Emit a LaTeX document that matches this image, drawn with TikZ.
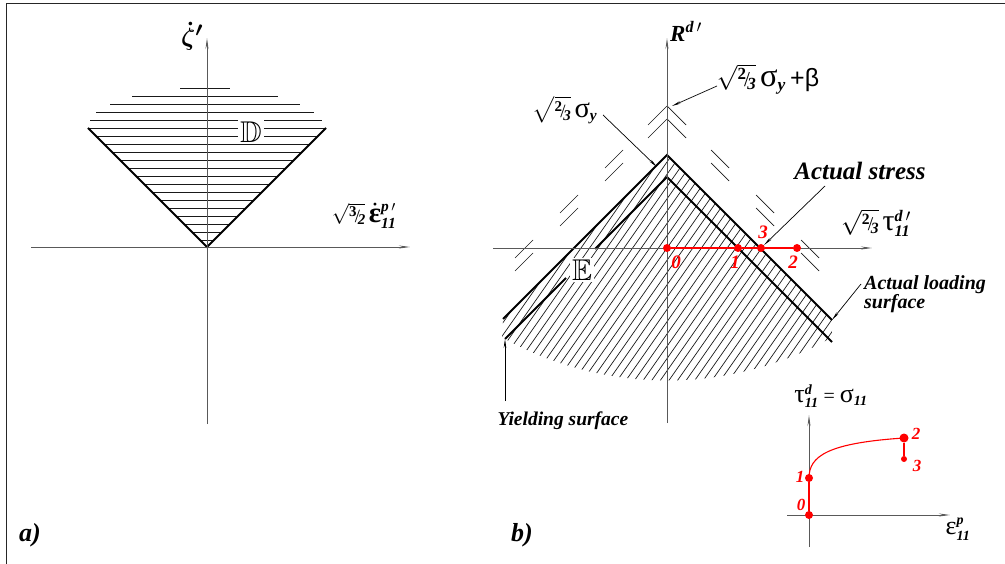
\documentclass[tikz,border=0pt]{standalone}
\usepackage{amsmath,amssymb}
\usepackage{fontspec}
\setmainfont{Liberation Serif}
\newfontfamily\sansf{Liberation Sans}
\usetikzlibrary{arrows.meta}
\newcommand{\rf}[2]{$\sqrt{\mbox{\raisebox{0.28em}{\scalebox{0.68}{\bfseries #1}}\kern-0.08em\scalebox{0.85}{/}\kern-0.1em\raisebox{-0.12em}{\scalebox{0.68}{\bfseries\itshape #2}}}}$}
\newcommand{\bi}[1]{\textbf{\textit{#1}}}
\newcommand{\fs}[1]{\fontsize{#1}{#1}\selectfont}
\newcommand{\gk}[1]{\scalebox{1.3}{#1}}
\newsavebox\zetabox
\newsavebox\epsbox
\begin{document}
\sbox\zetabox{\fs{31}\boldmath$\dot{\zeta}^{\prime}$}
\sbox\epsbox{\fs{22}\rf{3}{2}\,{\boldmath$\dot{\mbox{\gk{\bfseries ε}}}$}$^{\bi{p}\,\prime}_{\bi{11}}$}
\begin{tikzpicture}[x=1pt,y=-1pt,
  frame/.style={line width=1pt,draw=black!85},
  axline/.style={draw=black!65,line width=0.9pt},
  arr/.style={-{Stealth[length=11pt,width=3pt]}},
  hl/.style={line width=0.7pt,draw=black!90},
  thk/.style={line width=1.8pt},
  lead/.style={line width=0.7pt,-{Stealth[length=9pt,width=2.6pt]}},
  rdot/.style={circle,fill=red,inner sep=0pt,minimum size=8pt},
  rlab/.style={text=red,font=\fs{17}\bfseries\itshape,inner sep=0pt},
  blab/.style={font=\bfseries\itshape,inner sep=0pt},
  lbl/.style={inner sep=0pt}]
\useasboundingbox (0,0) rectangle (1005,564);
\draw[frame] (6,564) -- (6,4) -- (1005,4);

% ---------------- panel a ----------------
\coordinate (aO) at (207,247);
\coordinate (aL) at (88,128);
\coordinate (aR) at (326,128);
\foreach \k in {0,...,14}{
  \pgfmathsetmacro\yy{128+8*\k}
  \pgfmathsetmacro\hw{247-\yy}
  \draw[hl] ({207-\hw},\yy) -- ({207+\hw},\yy);
}
\foreach \y/\l/\r in {120/90/322,112/96/314,104/110/300,96/132/278,88/180/230}
  \draw[hl] (\l,\y) -- (\r,\y);
\node[fill=white,inner sep=2pt,font=\fs{30}] (D) at (251,132) {$\mathbb{D}$};
\draw[thk] (aL) -- (aO) -- (aR);
\draw[axline,arr] (31,247) -- (410,247);
\draw[axline,arr] (207,424) -- (207,38);
\node[lbl] (zt) at (192,36) {\usebox\zetabox};
\node[lbl] (xa) at (364,216) {\usebox\epsbox};
\node[blab,font=\fs{26}\bfseries\itshape] (la) at (30,535) {a)};

% ---------------- panel b ----------------
\coordinate (bO) at (667,248);
\coordinate (oA) at (667,155);
\coordinate (oL) at (503,319);
\coordinate (oR) at (832,320);
\coordinate (iA) at (667,177);
\coordinate (iL) at (505,339);
\coordinate (iR) at (832,342);
\begin{scope}
  \clip (oA) -- (oR) -- (832,337.4) arc[start angle=60.7,end angle=119.3,radius=337] -- (oL) -- cycle;
  \foreach \i in {-34,...,36}
    \draw[hl] ({667+8.6*\i-175},498) -- ++(350,-500);
\end{scope}
% dashed double cone
\foreach \s in {-1,1}
  \foreach \a/\b in {0/19,44/62,89/107,134/152}{
    \draw[hl] ({667+\s*\a},{106+\a}) -- ({667+\s*\b},{106+\b});
    \draw[hl] ({667+\s*\a},{119+\a}) -- ({667+\s*\b},{119+\b});
  }
\draw[thk] (oL) -- (oA) -- (oR);
\draw[thk] (iA) -- (595,249);
\draw[thk] (566,278) -- (iL);
\draw[thk] (iA) -- (iR);
\node[fill=white,inner sep=2pt,font=\fs{30}] (E) at (582,270) {$\mathbb{E}$};
\draw[axline,arr] (493,248) -- (872,248);
\draw[axline,arr] (667,423) -- (667,38);
% red path
\node[rdot] (p0) at (667,248) {};
\node[rdot] (p1) at (738,248) {};
\node[rdot] (p3) at (761,248) {};
\node[rdot] (p2) at (797,248) {};
\draw[red,line width=1.5pt] (p0) -- (p1) -- (p3) -- (p2);
\node[rlab,font=\fs{19}\bfseries\itshape] at (676,262) {0};
\node[rlab,font=\fs{19}\bfseries\itshape] at (735,262) {1};
\node[rlab,font=\fs{19}\bfseries\itshape] at (793,262) {2};
\node[rlab,font=\fs{19}\bfseries\itshape] at (763,232) {3};
% labels
\node[blab,font=\fs{23}\bfseries\itshape] (R) at (686,31) {R$^{\bi{d}\,\prime}$};
\node[lbl,font=\fs{25}] (sb) at (768,79) {\rf{2}{3}\,\gk{σ}$_{\bi{y}}$\,{\sansf +β}};
\coordinate (sbE) at (717,86);
\draw[lead] (sbE) -- (672,106);
\node[lbl,font=\fs{22}] (sy) at (565,110) {\rf{2}{3}\,\gk{σ}$_{\bi{y}}$};
\coordinate (syE) at (603,115);
\draw[lead] (syE) -- (657,167);
\node[lbl,font=\fs{23}] (tau) at (876,223) {\rf{2}{3}\,\gk{τ}$^{\bi{d}\,\prime}_{\bi{11}}$};
\node[blab,font=\fs{25}\bfseries\itshape] (as) at (860,171) {Actual stress};
\coordinate (asE) at (825,186);
\draw[lead] (asE) -- (p3);
\node[blab,font=\fs{20}\bfseries\itshape,align=left,anchor=north west] (als) at (864,275) {Actual loading\\[-1pt]surface};
\coordinate (alsE) at (861,284);
\draw[lead] (alsE) -- (oR);
\node[blab,font=\fs{19.5}\bfseries\itshape] (ys) at (563,421) {Yielding surface};
\coordinate (ysE) at (505,401);
\draw[lead] (ysE) -- (iL);
\node[blab,font=\fs{26}\bfseries\itshape] (lb) at (522,535) {b)};

% ---------------- inset ----------------
\draw[axline,arr] (787,515) -- (950,515);
\draw[axline,arr] (809,547) -- (809,415);
\node[rdot] (q0) at (809,515) {};
\node[rdot] (q1) at (809,478) {};
\node[rdot,minimum size=9pt] (q2) at (904,438) {};
\node[rdot,minimum size=6pt] (q3) at (904,459) {};
\draw[red,line width=1.1pt] (q0) -- (q1);
\draw[red,line width=1.1pt] (q1.center) .. controls (809,456) and (828,443) .. (q2.center);
\draw[red,line width=1.1pt] (q2) -- (q3);
\node[rlab] at (801,505) {0};
\node[rlab] at (800,477) {1};
\node[rlab] at (916,434) {2};
\node[rlab] at (917,466) {3};
\node[lbl,font=\fs{20}] (tl) at (831,396) {\gk{τ}$^{\bi{d}}_{\bi{11}}$ = \gk{σ}$_{\bi{11}}$};
\node[lbl,font=\fs{20}] (el) at (958,529) {\gk{ε}$^{\bi{p}}_{\bi{11}}$};
\end{tikzpicture}
\end{document}
